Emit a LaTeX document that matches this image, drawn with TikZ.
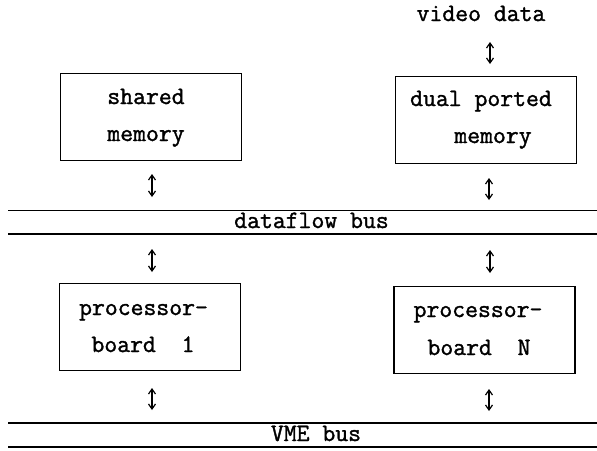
\documentclass[tikz,border=0pt]{standalone}
\usepackage{fontspec}
\setmonofont{Latin Modern Mono}[FakeBold=1.4]
\usetikzlibrary{arrows.meta}
\begin{document}
\begin{tikzpicture}[x=1pt,y=-1pt,
  box/.style={draw,line width=1.3pt,minimum width=181pt,minimum height=87pt,inner sep=0pt},
  txt/.style={font=\ttfamily\fontsize{25}{30}\selectfont,anchor=base,inner sep=0pt},
  busline/.style={line width=1.4pt},
  dbl/.style={line width=1.2pt,{Straight Barb[length=5pt,width=7pt]}-{Straight Barb[length=5pt,width=7pt]}}]
\useasboundingbox (0,0) rectangle (597,450);
% boxes
\node[box] (sm) at (151,117) {};
\node[box] (dp) at (486,120) {};
\node[box] (pb1) at (150,327) {};
\node[box] (pbn) at (484.5,330) {};
% texts
\node[txt] (vd) at (481,21) {video data};
\node[txt] (sm1) at (146,104) {shared};
\node[txt] (sm2) at (146,141) {memory};
\node[txt] (dp1) at (481,106) {dual ported};
\node[txt] (dp2) at (493,143) {memory};
\node[txt] (pb11) at (143.5,315) {processor-};
\node[txt] (pb12) at (143,352) {board\ \ 1};
\node[txt] (pbn1) at (478,317) {processor-};
\node[txt] (pbn2) at (479,355) {board\ \ N};
\node[txt] (df) at (311.5,228) {dataflow bus};
\node[txt] (vme) at (316,441) {VME bus};
% bus lines
\coordinate (d1l) at (8,210.5); \coordinate (d1r) at (597,210.5);
\coordinate (d2l) at (8,234); \coordinate (d2r) at (597,234);
\coordinate (v1l) at (8,423); \coordinate (v1r) at (597,423);
\coordinate (v2l) at (8,447); \coordinate (v2r) at (597,447);
\draw[busline] (d1l) -- (d1r);
\draw[busline] (d2l) -- (d2r);
\draw[busline] (v1l) -- (v1r);
\draw[busline] (v2l) -- (v2r);
% arrows
\coordinate (a1t) at (490,42); \coordinate (a1b) at (490,64);
\coordinate (a2t) at (152,174); \coordinate (a2b) at (152,197);
\coordinate (a3t) at (489,178); \coordinate (a3b) at (489,200);
\coordinate (a4t) at (152,249); \coordinate (a4b) at (152,272);
\coordinate (a5t) at (490,250); \coordinate (a5b) at (490,273);
\coordinate (a6t) at (152,388); \coordinate (a6b) at (152,410);
\coordinate (a7t) at (489,389); \coordinate (a7b) at (489,411);
\foreach \a in {1,...,7} {\draw[dbl] (a\a t) -- (a\a b);}
\end{tikzpicture}
\end{document}
